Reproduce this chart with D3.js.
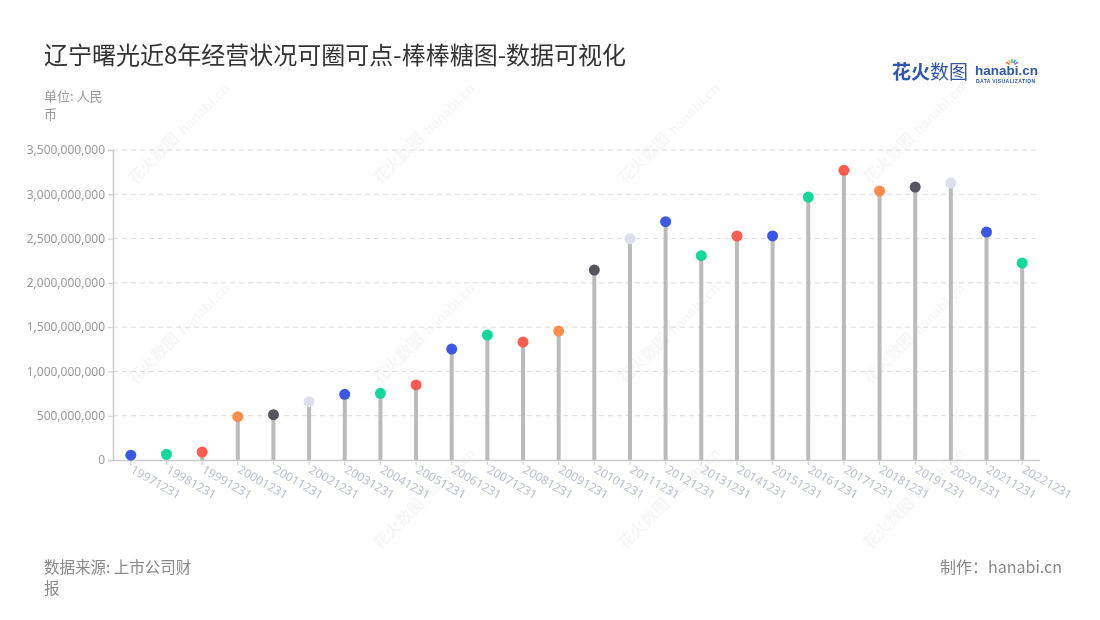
<!DOCTYPE html>
<html><head><meta charset="utf-8">
<script src="https://cdn.jsdelivr.net/npm/d3@7"></script>
<style>body{margin:0;background:#fff;font-family:"Noto Sans CJK SC","Noto Sans",sans-serif;}</style>
</head><body><svg id="c" width="1100" height="620"></svg>
<script>
const categories = ["19971231","19981231","19991231","20001231","20011231","20021231","20031231","20041231","20051231","20061231","20071231","20081231","20091231","20101231","20111231","20121231","20131231","20141231","20151231","20161231","20171231","20181231","20191231","20201231","20211231","20221231"];
const values = [55e6,65e6,90e6,489e6,512e6,658e6,741e6,753e6,847e6,1253e6,1411e6,1332e6,1456e6,2145e6,2499e6,2691e6,2307e6,2529e6,2530e6,2969e6,3271e6,3037e6,3082e6,3127e6,2574e6,2224e6];
const palette = ["#3b57e8","#12d99b","#ff5b4f","#ff8c4a","#55545f","#dde0ea","#3b57e8","#12d99b","#ff5b4f"];
const yTicks = [0,500e6,1000e6,1500e6,2000e6,2500e6,3000e6,3500e6];

const svg = d3.select("#c");
const mLeft=113, mRight=1040, mTop=150, mBottom=460;
const x = d3.scaleBand().domain(categories).range([mLeft,mRight]);
const y = d3.scaleLinear().domain([0,3500e6]).range([mBottom,mTop]);

// watermarks
const wm = svg.append("g").attr("fill","#000").attr("opacity",0.035);
[[135,185],[135,385],[380,185],[380,385],[380,550],[625,185],[625,385],[625,550],[870,185],[870,385],[870,550]].forEach(([wx,wy])=>{
  const g = wm.append("g").attr("transform",`translate(${wx},${wy}) rotate(-45)`);
  g.append("text").attr("font-size",16).attr("font-weight","bold").text("花火数图");
  g.append("text").attr("x",70).attr("font-size",14).attr("font-weight","bold").attr("font-family","Arial").text("hanabi.cn");
});

// grid
svg.append("g").selectAll("line").data(yTicks.slice(1)).join("line")
  .attr("x1",mLeft).attr("x2",mRight).attr("y1",d=>y(d)).attr("y2",d=>y(d))
  .attr("stroke","#dcdcdc").attr("stroke-dasharray","5,4");

// y axis
const ya = svg.append("g").attr("transform",`translate(${mLeft},0)`)
  .call(d3.axisLeft(y).tickValues(yTicks).tickFormat(d3.format(",")).tickSize(5).tickPadding(3));
ya.select(".domain").attr("stroke","#ccc").attr("stroke-width",1.5);
ya.selectAll(".tick line").attr("stroke","#ccc");
ya.selectAll("text").attr("fill","#9a9a9a").attr("font-size",12).attr("font-family","Noto Sans");

// x axis
const xa = svg.append("g").attr("transform",`translate(0,${mBottom})`)
  .call(d3.axisBottom(x).tickSize(5).tickSizeOuter(0));
xa.select(".domain").attr("stroke","#ccc").attr("stroke-width",1.5).attr("d",`M${mLeft},0.5H${mRight}`);
xa.selectAll(".tick line").attr("stroke","#ccc");
xa.selectAll("text").attr("fill","#bcc0cd").attr("font-size",12).attr("font-family","Noto Sans")
  .attr("text-anchor","start").attr("dy",0).attr("y",0)
  .attr("transform","translate(-1,12) rotate(30)");

// stems
svg.append("g").selectAll("line").data(categories).join("line")
  .attr("x1",d=>x(d)+x.bandwidth()/2).attr("x2",d=>x(d)+x.bandwidth()/2)
  .attr("y1",y(0)).attr("y2",(d,i)=>y(values[i]))
  .attr("stroke","#bbbbbb").attr("stroke-width",4);
// dots
svg.append("g").selectAll("circle").data(categories).join("circle")
  .attr("cx",d=>x(d)+x.bandwidth()/2).attr("cy",(d,i)=>y(values[i])).attr("r",5.5)
  .attr("fill",(d,i)=>palette[i%palette.length]);

// texts
svg.append("text").attr("x",44).attr("y",64).attr("font-size",24).attr("fill","#333").text("辽宁曙光近8年经营状况可圈可点-棒棒糖图-数据可视化");
svg.append("text").attr("x",44).attr("y",101).attr("font-size",13).attr("fill","#9a9a9a").text("单位: 人民");
svg.append("text").attr("x",44).attr("y",119).attr("font-size",13).attr("fill","#9a9a9a").text("币");
svg.append("text").attr("x",44).attr("y",573).attr("font-size",15.5).attr("fill","#888").text("数据来源: 上市公司财");
svg.append("text").attr("x",44).attr("y",594).attr("font-size",15.5).attr("fill","#888").text("报");
svg.append("text").attr("x",1062).attr("y",573).attr("text-anchor","end").attr("font-size",16).attr("fill","#888").text("制作：hanabi.cn");

// logo
const lg = svg.append("g");
lg.append("text").attr("x",892).attr("y",79).attr("font-size",19).attr("font-weight","bold").attr("fill","#2f56b3").text("花火");
lg.append("text").attr("x",930).attr("y",79).attr("font-size",19).attr("fill","#2f56b3").text("数图");
lg.append("text").attr("x",975).attr("y",75).attr("font-size",13.5).attr("font-weight","bold").attr("font-family","Arial").attr("fill","#2f56b3").text("hanabi.cn");
lg.append("text").attr("x",976).attr("y",83).attr("font-size",5).attr("font-weight","bold").attr("font-family","Arial").attr("letter-spacing",0.4).attr("fill","#2f56b3").text("DATA VISUALIZATION");
const burst=["#f55","#fb3","#3c6","#39f","#a5f"];
burst.forEach((c,i)=>{const a=-Math.PI/2+(i-2)*0.5;lg.append("line").attr("x1",1012+Math.cos(a)*3).attr("y1",66+Math.sin(a)*3).attr("x2",1012+Math.cos(a)*7).attr("y2",66+Math.sin(a)*7).attr("stroke",c).attr("stroke-width",1.5);});
</script></body></html>
